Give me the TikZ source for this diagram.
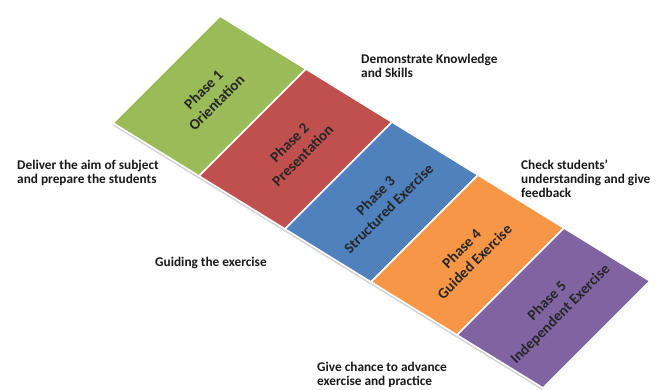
\documentclass[tikz,border=0pt]{standalone}
\usepackage{fontspec}
\setmainfont{Carlito}
\usetikzlibrary{positioning}
\definecolor{phgreen}{HTML}{9BBB59}
\definecolor{phred}{HTML}{C0504D}
\definecolor{phblue}{HTML}{4F81BD}
\definecolor{phorange}{HTML}{F79646}
\definecolor{phpurple}{HTML}{8064A2}
\tikzstyle{phase}=[draw=white, line width=1.6pt, line join=miter]
\tikzstyle{phasetext}=[rotate=45, align=center, text=black!85, inner sep=1pt,
  font=\bfseries\fontsize{15}{18.5}\selectfont]
\tikzstyle{note}=[anchor=north west, align=left, inner sep=0pt, text=black!90,
  font=\bfseries\fontsize{13.3}{13.8}\selectfont]

\begin{document}
\begin{tikzpicture}[x=1pt,y=1pt]
\useasboundingbox (0,0) rectangle (659,-389);
% soft shadow under the strip
\fill[black!18] (112,-125) -- (219,-18) -- (649,-283) -- (542,-390) -- cycle;
% the five phases
\filldraw[phase,fill=phgreen]  (113,-123) -- (220,-16)  -- (306,-69)  -- (199,-176) -- cycle;
\filldraw[phase,fill=phred]    (199,-176) -- (306,-69)  -- (392,-122) -- (285,-229) -- cycle;
\filldraw[phase,fill=phblue]   (285,-229) -- (392,-122) -- (478,-175) -- (371,-282) -- cycle;
\filldraw[phase,fill=phorange] (371,-282) -- (478,-175) -- (564,-228) -- (457,-335) -- cycle;
\filldraw[phase,fill=phpurple] (457,-335) -- (564,-228) -- (650,-281) -- (543,-388) -- cycle;
\node[phasetext] (ph1) at (210,-96)  {Phase 1\\Orientation};
\node[phasetext] (ph2) at (296,-149) {Phase 2\\Presentation};
\node[phasetext] (ph3) at (382,-202) {Phase 3\\Structured Exercise};
\node[phasetext] (ph4) at (468,-255) {Phase 4\\Guided Exercise};
\node[phasetext] (ph5) at (554,-308) {Phase 5\\Independent Exercise};
% what happens in each phase
\node[note] (deliver) at (17,-160)  {Deliver the aim of subject\\and prepare the students};
\node[note] (demo)    at (361,-54)  {Demonstrate Knowledge\\and Skills};
\node[note] (guide)   at (155,-257) {Guiding the exercise};
\node[note] (check)   at (521,-160) {Check students'\\understanding and give\\feedback};
\node[note] (chance)  at (317,-362) {Give chance to advance\\exercise and practice};
\end{tikzpicture}
\end{document}
